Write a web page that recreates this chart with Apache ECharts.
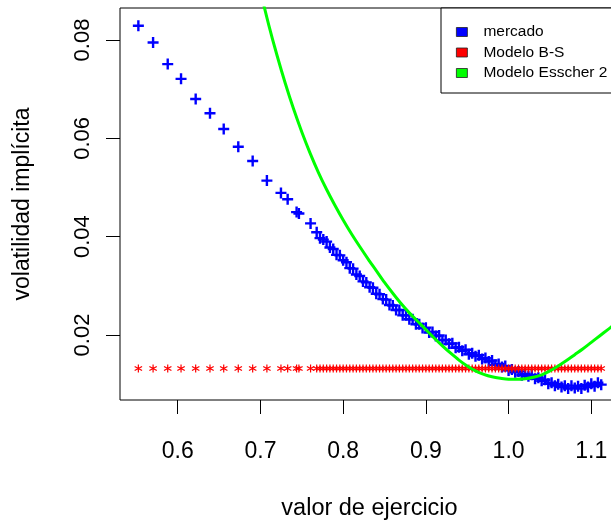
<!DOCTYPE html>
<html>
<head>
<meta charset="utf-8">
<script src="https://cdn.jsdelivr.net/npm/echarts@6/dist/echarts.min.js"></script>
<style>
  html, body { margin: 0; padding: 0; background: #fff; }
  #chart { width: 611px; height: 522px; }
</style>
</head>
<body>
<div id="chart"></div>
<script>
// ---- data ----
const strikes = [
  0.5524, 0.5702, 0.5879, 0.6040, 0.6217, 0.6390, 0.6556, 0.6732, 0.6906, 0.7078,
  0.7248, 0.7329, 0.7437, 0.7465, 0.7606,
  0.768, 0.772, 0.776, 0.780, 0.784, 0.788, 0.792, 0.796, 0.800, 0.804,
  0.808, 0.812, 0.816, 0.820, 0.824, 0.828, 0.832, 0.836, 0.840, 0.844,
  0.848, 0.852, 0.856, 0.860, 0.864, 0.868, 0.872, 0.876, 0.880, 0.884,
  0.888, 0.892, 0.896, 0.900, 0.904, 0.908, 0.912, 0.916, 0.920, 0.924,
  0.928, 0.932, 0.936, 0.940, 0.944, 0.948, 0.952, 0.956, 0.960, 0.964,
  0.968, 0.972, 0.976, 0.980, 0.984, 0.988, 0.992, 0.996, 1.000, 1.004,
  1.008, 1.012, 1.016, 1.020, 1.024, 1.028, 1.032, 1.036, 1.040, 1.044,
  1.048, 1.052, 1.056, 1.060, 1.064, 1.068, 1.072, 1.076, 1.080, 1.084,
  1.088, 1.092, 1.096, 1.100, 1.104, 1.108, 1.112
];
const marketVol = [
  0.0829, 0.0795, 0.0751, 0.0721, 0.0680, 0.0651, 0.0619, 0.0583, 0.0554, 0.0514,
  0.0489, 0.0476, 0.0450, 0.0447, 0.0427,
  0.0409, 0.0397, 0.0394, 0.0390, 0.0378, 0.0375, 0.0363, 0.0362, 0.0352, 0.0348,
  0.0336, 0.0335, 0.0323, 0.0320, 0.0309, 0.0307, 0.0297, 0.0296, 0.0284, 0.0283,
  0.0273, 0.0272, 0.0261, 0.0260, 0.0251, 0.0251, 0.0240, 0.0240, 0.0232, 0.0232,
  0.0222, 0.0222, 0.0214, 0.0215, 0.0205, 0.0206, 0.0198, 0.0199, 0.0189, 0.0190,
  0.0182, 0.0183, 0.0174, 0.0175, 0.0168, 0.0170, 0.0161, 0.0163, 0.0157, 0.0159,
  0.0151, 0.0153, 0.0146, 0.0148, 0.0139, 0.0141, 0.0135, 0.0137, 0.0128, 0.0130,
  0.0124, 0.0126, 0.0118, 0.0121, 0.0116, 0.0119, 0.0111, 0.0113, 0.0107, 0.0109,
  0.0101, 0.0103, 0.0097, 0.0100, 0.0094, 0.0097, 0.0091, 0.0097, 0.0092, 0.0096,
  0.0091, 0.0098, 0.0094, 0.0101, 0.0096, 0.0103, 0.0099
];
const bsVol = 0.0132; // constant Black-Scholes implied volatility

const esscherStrikes = [
  0.70, 0.71, 0.72, 0.73, 0.74, 0.75, 0.76, 0.77, 0.78, 0.79,
  0.80, 0.81, 0.82, 0.83, 0.84, 0.85, 0.86, 0.87, 0.88, 0.89,
  0.90, 0.91, 0.92, 0.93, 0.94, 0.95, 0.96, 0.97, 0.98, 0.99,
  1.00, 1.01, 1.02, 1.03, 1.04, 1.05, 1.06, 1.07, 1.08, 1.09,
  1.10, 1.11, 1.12, 1.13, 1.14
];
const esscherVol = [
  0.0899, 0.0831, 0.0769, 0.0712, 0.0660, 0.0613, 0.0570, 0.0531, 0.0496, 0.0464,
  0.0434, 0.0406, 0.0380, 0.0355, 0.0331, 0.0307, 0.0285, 0.0264, 0.0245, 0.0228,
  0.0211, 0.0194, 0.0178, 0.0163, 0.0149, 0.0137, 0.0127, 0.0120, 0.0115, 0.0112,
  0.0110, 0.0110, 0.0111, 0.0114, 0.0119, 0.0127, 0.0137, 0.0148, 0.0160, 0.0172,
  0.0185, 0.0198, 0.0211, 0.0224, 0.0238
];

const xTicks = [0.6, 0.7, 0.8, 0.9, 1.0, 1.1];
const yTicks = [0.02, 0.04, 0.06, 0.08];
const seriesNames = ['mercado', 'Modelo B-S', 'Modelo Esscher 2'];
const xTitle = 'valor de ejercicio';
const yTitle = 'volatilidad implícita';

// ---- marker shapes ----
const plusPath = 'path://M4.3,0H6.7V4.3H11V6.7H6.7V11H4.3V6.7H0V4.3H4.3Z';
const starPath = 'path://M4.3,0H5.7V10H4.3Z M1.02,8.106L0.32,6.894L8.98,1.894L9.68,3.106Z M0.32,3.106L1.02,1.894L9.68,6.894L8.98,8.106Z';

const FONT = '"Liberation Sans", Arial, Helvetica, sans-serif';
const BLUE = '#0000ff', RED = '#ff0000', GREEN = '#00ff00';

const chart = echarts.init(document.getElementById('chart'), null, { renderer: 'canvas' });
chart.setOption({
  animation: false,
  backgroundColor: '#ffffff',
  textStyle: { fontFamily: FONT },
  grid: {
    left: 120, top: 8, right: -8, bottom: 122,
    containLabel: false, outerBoundsMode: 'none',
    show: true, borderColor: '#000', borderWidth: 1, backgroundColor: 'transparent'
  },
  legend: {
    orient: 'vertical',
    left: 441, top: 8,
    padding: [16, 60, 12, 15],
    itemGap: 4.5,
    itemWidth: 11, itemHeight: 9,
    icon: 'rect',
    borderColor: '#000', borderWidth: 1,
    backgroundColor: '#fff',
    textStyle: { fontSize: 15.5, color: '#000', fontFamily: FONT, padding: [0, 0, 0, 11] },
    data: [
      { name: seriesNames[0], itemStyle: { color: BLUE, borderColor: '#222', borderWidth: 0.8, opacity: 1 } },
      { name: seriesNames[1], itemStyle: { color: RED, borderColor: '#222', borderWidth: 0.8, opacity: 1 } },
      { name: seriesNames[2], itemStyle: { color: GREEN, borderColor: '#222', borderWidth: 0.8, opacity: 1 } }
    ]
  },
  xAxis: {
    type: 'value',
    min: 0.5302, max: 1.1335,
    name: xTitle, nameLocation: 'middle', nameGap: 97,
    nameTextStyle: { fontSize: 23.5, color: '#000', fontFamily: FONT },
    axisLine: { show: false },
    splitLine: { show: false },
    axisTick: { show: true, length: 14, customValues: xTicks, lineStyle: { color: '#000', width: 1 } },
    axisLabel: {
      customValues: xTicks, margin: 40, fontSize: 23, color: '#000', fontFamily: FONT,
      formatter: v => v.toFixed(1)
    }
  },
  yAxis: {
    type: 'value',
    min: 0.00678, max: 0.08651,
    name: yTitle, nameLocation: 'middle', nameGap: 86, nameRotate: 90,
    nameTextStyle: { fontSize: 23, color: '#000', fontFamily: FONT },
    axisLine: { show: false },
    splitLine: { show: false },
    axisTick: { show: true, length: 14, customValues: yTicks, lineStyle: { color: '#000', width: 1 } },
    axisLabel: {
      customValues: yTicks, rotate: 90, margin: 26, fontSize: 22, color: '#000', fontFamily: FONT,
      formatter: v => v.toFixed(2)
    }
  },
  series: [
    {
      name: seriesNames[0], type: 'scatter',
      symbol: plusPath, symbolSize: 11,
      itemStyle: { color: BLUE, opacity: 1 },
      data: strikes.map((k, i) => [k, marketVol[i]]),
      clip: true, z: 2
    },
    {
      name: seriesNames[1], type: 'scatter',
      symbol: starPath, symbolSize: 8,
      itemStyle: { color: RED, opacity: 1 },
      data: strikes.map(k => [k, bsVol]),
      clip: true, z: 3
    },
    {
      name: seriesNames[2], type: 'line',
      showSymbol: false, smooth: 0.3,
      lineStyle: { color: GREEN, width: 3 },
      itemStyle: { color: GREEN },
      data: esscherStrikes.map((k, i) => [k, esscherVol[i]]),
      clip: true, z: 4
    }
  ]
});
</script>
</body>
</html>
